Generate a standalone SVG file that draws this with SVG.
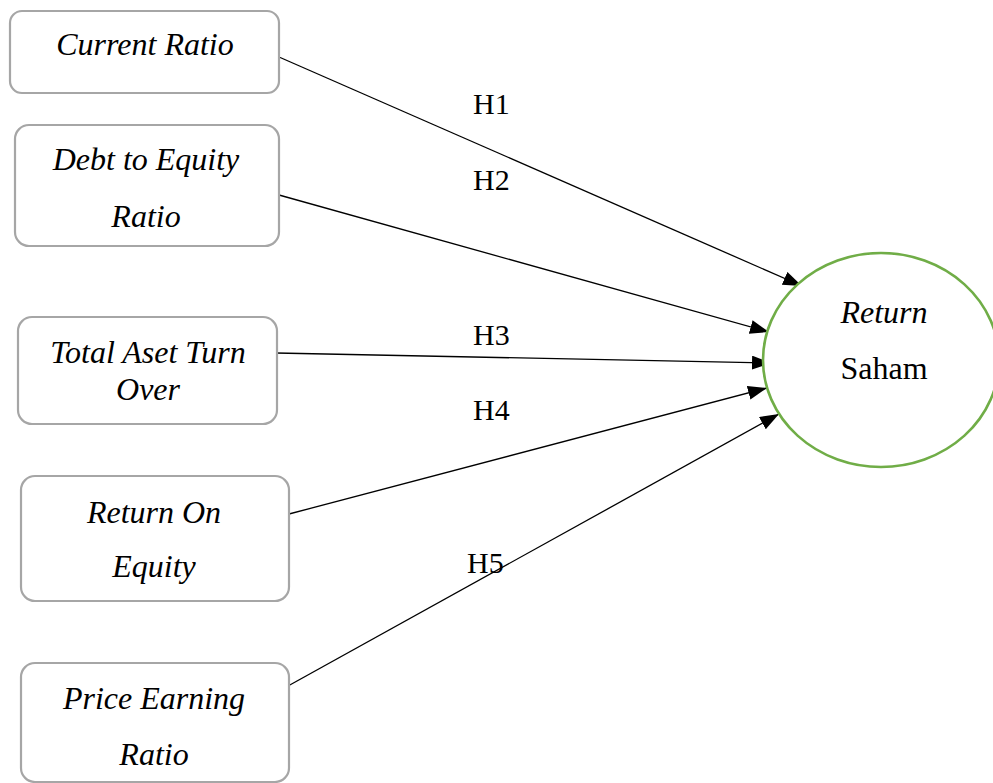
<svg xmlns="http://www.w3.org/2000/svg" width="993" height="783" viewBox="0 0 993 783">
<style>
.box{fill:#fff;stroke:#a6a6a6;stroke-width:2.2}
.t{font-family:"Liberation Serif","Times New Roman",serif;font-size:32px;fill:#000;text-anchor:middle}
.i{font-style:italic}
.h{font-family:"Liberation Serif","Times New Roman",serif;font-size:30px;fill:#000}
.c{stroke:#000;stroke-width:1.3;fill:none;marker-end:url(#arr)}
</style>
<defs>
<marker id="arr" markerUnits="userSpaceOnUse" markerWidth="20" markerHeight="16" refX="19" refY="7" orient="auto">
<path d="M0,0 L19,7 L0,14 Z" fill="#000"/>
</marker>
</defs>
<rect width="993" height="783" fill="#fff"/>
<g id="connectors">
<line class="c" x1="279" y1="57" x2="802" y2="286"/>
<line class="c" x1="279" y1="195" x2="769" y2="332"/>
<line class="c" x1="276" y1="353" x2="771" y2="363"/>
<line class="c" x1="289" y1="514" x2="767" y2="388"/>
<line class="c" x1="288" y1="686" x2="779" y2="414"/>
</g>
<g id="labels">
<text class="h" x="473" y="114">H1</text>
<text class="h" x="473" y="190">H2</text>
<text class="h" x="473" y="345">H3</text>
<text class="h" x="473" y="420">H4</text>
<text class="h" x="467" y="573">H5</text>
</g>
<g id="n1">
<rect class="box" x="10" y="11" width="269" height="82" rx="12"/>
<text class="t i" x="145" y="55">Current Ratio</text>
</g>
<g id="n2">
<rect class="box" x="15" y="125" width="264" height="121" rx="14"/>
<text class="t i" x="146" y="170">Debt to Equity</text>
<text class="t i" x="146" y="227">Ratio</text>
</g>
<g id="n3">
<rect class="box" x="18" y="317" width="259" height="107" rx="14"/>
<text class="t i" x="148" y="363">Total Aset Turn</text>
<text class="t i" x="148" y="400">Over</text>
</g>
<g id="n4">
<rect class="box" x="21" y="476" width="268" height="125" rx="14"/>
<text class="t i" x="154" y="523">Return On</text>
<text class="t i" x="154" y="577">Equity</text>
</g>
<g id="n5">
<rect class="box" x="21" y="663" width="268" height="119" rx="14"/>
<text class="t i" x="154" y="709">Price Earning</text>
<text class="t i" x="154" y="765">Ratio</text>
</g>
<g id="target">
<ellipse cx="881" cy="360" rx="118" ry="107" fill="#fff" stroke="#70ad47" stroke-width="2.6"/>
<text class="t i" x="884" y="323">Return</text>
<text class="t" x="884" y="379">Saham</text>
</g>
</svg>
